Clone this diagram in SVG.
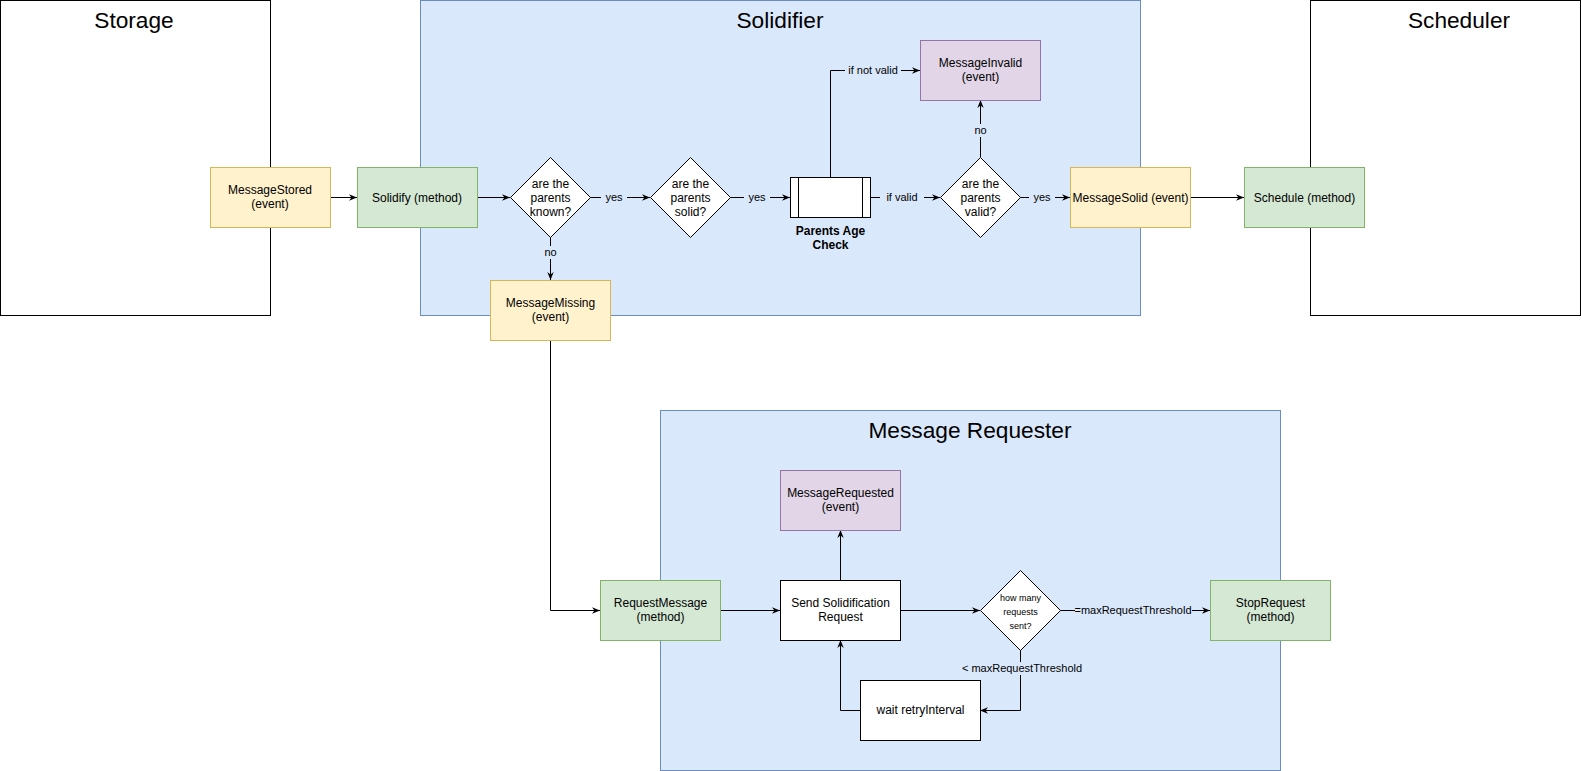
<svg xmlns="http://www.w3.org/2000/svg" width="1581" height="771" viewBox="0 0 1581 771">
  <defs>
    <style>
      text { font-family: "Liberation Sans", Arial, sans-serif; fill: #000; }
      .title { font-size: 22.7px; text-anchor: middle; }
      .t { font-size: 12px; text-anchor: middle; }
      .tb { font-size: 12px; text-anchor: middle; font-weight: bold; }
      .ts { font-size: 9px; text-anchor: middle; }
      .lbl { font-size: 11px; text-anchor: middle; }
      .cont { fill: #ffffff; stroke: #000000; stroke-width: 1; }
      .blue { fill: #dae8fc; stroke: #6c8ebf; stroke-width: 1; }
      .yellow { fill: #fff2cc; stroke: #d6b656; stroke-width: 1; }
      .green { fill: #d5e8d4; stroke: #82b366; stroke-width: 1; }
      .purple { fill: #e1d5e7; stroke: #9673a6; stroke-width: 1; }
      .white { fill: #ffffff; stroke: #000000; stroke-width: 1; }
      .edge { fill: none; stroke: #000000; stroke-width: 1; marker-end: url(#arrow); }
      .lbg { fill: #dae8fc; stroke: none; }
    </style>
    <marker id="arrow" viewBox="0 0 10 10" refX="10" refY="5" markerWidth="8" markerHeight="8" markerUnits="userSpaceOnUse" orient="auto">
      <path d="M0,1 L10,5 L0,9 L3,5 Z" fill="#000000"/>
    </marker>
  </defs>

  <g id="containers">
    <g id="storage">
      <rect class="cont" x="0.5" y="0.5" width="270" height="315"/>
      <text class="title" x="134" y="28">Storage</text>
    </g>
    <g id="solidifier">
      <rect class="blue" x="420.5" y="0.5" width="720" height="315"/>
      <text class="title" x="780" y="28">Solidifier</text>
    </g>
    <g id="scheduler">
      <rect class="cont" x="1310.5" y="0.5" width="270" height="315"/>
      <text class="title" x="1459" y="28">Scheduler</text>
    </g>
    <g id="message-requester">
      <rect class="blue" x="660.5" y="410.5" width="620" height="360"/>
      <text class="title" x="970" y="438">Message Requester</text>
    </g>
  </g>

  <g id="connectors">
    <path class="edge" d="M330,197.5 L357,197.5"/>
    <path class="edge" d="M477,197.5 L510,197.5"/>
    <path class="edge" d="M590,197.5 L650,197.5"/>
    <path class="edge" d="M730,197.5 L790,197.5"/>
    <path class="edge" d="M870,197.5 L940,197.5"/>
    <path class="edge" d="M1020,197.5 L1070,197.5"/>
    <path class="edge" d="M1190,197.5 L1244,197.5"/>
    <path class="edge" d="M830.5,177 L830.5,70.5 L920,70.5"/>
    <path class="edge" d="M980.5,157 L980.5,100"/>
    <path class="edge" d="M550.5,237 L550.5,280"/>
    <path class="edge" d="M550.5,340 L550.5,610.5 L600,610.5"/>
    <path class="edge" d="M720,610.5 L780,610.5"/>
    <path class="edge" d="M840.5,580 L840.5,530"/>
    <path class="edge" d="M900,610.5 L980,610.5"/>
    <path class="edge" d="M1060,610.5 L1210,610.5"/>
    <path class="edge" d="M1020.5,650 L1020.5,710.5 L980,710.5"/>
    <path class="edge" d="M860,710.5 L840.5,710.5 L840.5,640"/>

    <g id="edge-labels">
      <rect class="lbg" x="601" y="191" width="26" height="13"/>
      <text class="lbl" x="614" y="201">yes</text>
      <rect class="lbg" x="744" y="191" width="26" height="13"/>
      <text class="lbl" x="757" y="201">yes</text>
      <rect class="lbg" x="880" y="191" width="44" height="13"/>
      <text class="lbl" x="902" y="201">if valid</text>
      <rect class="lbg" x="1029" y="191" width="26" height="13"/>
      <text class="lbl" x="1042" y="201">yes</text>
      <rect class="lbg" x="845" y="64" width="56" height="13"/>
      <text class="lbl" x="873" y="74">if not valid</text>
      <rect class="lbg" x="972" y="124" width="17" height="13"/>
      <text class="lbl" x="980.5" y="134">no</text>
      <rect class="lbg" x="542" y="246" width="17" height="13"/>
      <text class="lbl" x="550.5" y="256">no</text>
      <rect class="lbg" x="1075" y="604" width="117" height="13"/>
      <text class="lbl" x="1133" y="614">=maxRequestThreshold</text>
      <rect class="lbg" x="962" y="662" width="120" height="13"/>
      <text class="lbl" x="1022" y="672">&lt; maxRequestThreshold</text>
    </g>
  </g>

  <g id="message-stored">
    <rect class="yellow" x="210.5" y="167.5" width="120" height="60"/>
    <text class="t" x="270" y="194">MessageStored</text>
    <text class="t" x="270" y="208">(event)</text>
  </g>
  <g id="solidify">
    <rect class="green" x="357.5" y="167.5" width="120" height="60"/>
    <text class="t" x="417" y="202">Solidify (method)</text>
  </g>
  <g id="parents-known">
    <polygon class="white" points="550.5,157.5 590.5,197.5 550.5,237.5 510.5,197.5"/>
    <text class="t" x="550.5" y="188">are the</text>
    <text class="t" x="550.5" y="202">parents</text>
    <text class="t" x="550.5" y="216">known?</text>
  </g>
  <g id="parents-solid">
    <polygon class="white" points="690.5,157.5 730.5,197.5 690.5,237.5 650.5,197.5"/>
    <text class="t" x="690.5" y="188">are the</text>
    <text class="t" x="690.5" y="202">parents</text>
    <text class="t" x="690.5" y="216">solid?</text>
  </g>
  <g id="parents-age-check">
    <rect class="white" x="790.5" y="177.5" width="80" height="40"/>
    <line x1="798.5" y1="177.5" x2="798.5" y2="217.5" stroke="#000" stroke-width="1"/>
    <line x1="862.5" y1="177.5" x2="862.5" y2="217.5" stroke="#000" stroke-width="1"/>
    <text class="tb" x="830.5" y="235">Parents Age</text>
    <text class="tb" x="830.5" y="249">Check</text>
  </g>
  <g id="parents-valid">
    <polygon class="white" points="980.5,157.5 1020.5,197.5 980.5,237.5 940.5,197.5"/>
    <text class="t" x="980.5" y="188">are the</text>
    <text class="t" x="980.5" y="202">parents</text>
    <text class="t" x="980.5" y="216">valid?</text>
  </g>
  <g id="message-invalid">
    <rect class="purple" x="920.5" y="40.5" width="120" height="60"/>
    <text class="t" x="980.5" y="67">MessageInvalid</text>
    <text class="t" x="980.5" y="81">(event)</text>
  </g>
  <g id="message-solid">
    <rect class="yellow" x="1070.5" y="167.5" width="120" height="60"/>
    <text class="t" x="1130.5" y="202">MessageSolid (event)</text>
  </g>
  <g id="schedule">
    <rect class="green" x="1244.5" y="167.5" width="120" height="60"/>
    <text class="t" x="1304.5" y="202">Schedule (method)</text>
  </g>
  <g id="message-missing">
    <rect class="yellow" x="490.5" y="280.5" width="120" height="60"/>
    <text class="t" x="550.5" y="307">MessageMissing</text>
    <text class="t" x="550.5" y="321">(event)</text>
  </g>
  <g id="message-requested">
    <rect class="purple" x="780.5" y="470.5" width="120" height="60"/>
    <text class="t" x="840.5" y="497">MessageRequested</text>
    <text class="t" x="840.5" y="511">(event)</text>
  </g>
  <g id="request-message">
    <rect class="green" x="600.5" y="580.5" width="120" height="60"/>
    <text class="t" x="660.5" y="607">RequestMessage</text>
    <text class="t" x="660.5" y="621">(method)</text>
  </g>
  <g id="send-request">
    <rect class="white" x="780.5" y="580.5" width="120" height="60"/>
    <text class="t" x="840.5" y="607">Send Solidification</text>
    <text class="t" x="840.5" y="621">Request</text>
  </g>
  <g id="how-many">
    <polygon class="white" points="1020.5,570.5 1060.5,610.5 1020.5,650.5 980.5,610.5"/>
    <text class="ts" x="1020.5" y="601">how many</text>
    <text class="ts" x="1020.5" y="615">requests</text>
    <text class="ts" x="1020.5" y="629">sent?</text>
  </g>
  <g id="stop-request">
    <rect class="green" x="1210.5" y="580.5" width="120" height="60"/>
    <text class="t" x="1270.5" y="607">StopRequest</text>
    <text class="t" x="1270.5" y="621">(method)</text>
  </g>
  <g id="wait-retry">
    <rect class="white" x="860.5" y="680.5" width="120" height="60"/>
    <text class="t" x="920.5" y="714">wait retryInterval</text>
  </g>
</svg>
